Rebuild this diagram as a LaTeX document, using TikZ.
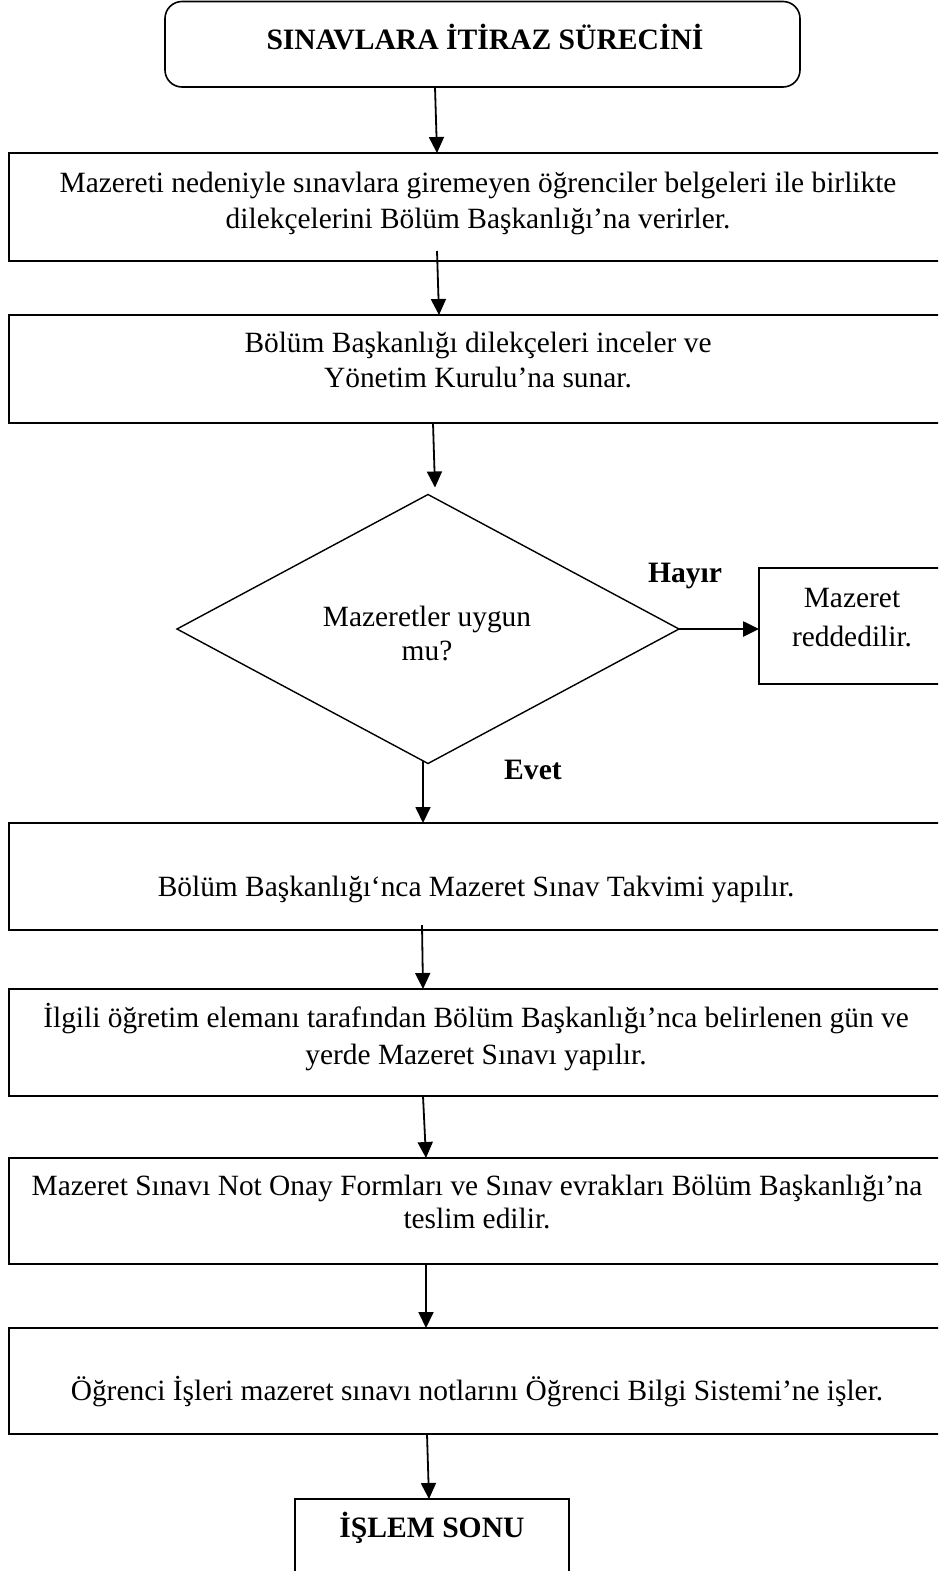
\documentclass[tikz,border=0pt]{standalone}
\usepackage{fontspec}
\setmainfont{Liberation Serif}
\usetikzlibrary{arrows.meta,shapes.geometric}

\tikzset{
  box/.style={draw, line width=1.6pt, rectangle, inner sep=0pt, outer sep=0pt},
  decision/.style={draw, line width=1.4pt, diamond, inner sep=0pt, outer sep=0pt},
  txt/.style={anchor=base, inner sep=0pt, font=\fontsize{29.4}{36}\selectfont},
  bold/.style={anchor=base, inner sep=0pt, font=\fontsize{29.6}{36}\selectfont\bfseries},
  flow/.style={line width=1.8pt, -{Triangle[length=16pt,width=15pt]}},
}

\newcommand{\twolines}[2]{\begin{tabular}[t]{@{}c@{}}#1\\#2\end{tabular}}

\begin{document}
\begin{tikzpicture}[x=1pt,y=-1pt]
\useasboundingbox (0,0) rectangle (938,1571);
\fill[white] (0,0) rectangle (938,1571);
\clip (0,0) rectangle (938,1571);

% start of the process
\node[box, rounded corners=17pt, minimum width=635pt, minimum height=85.5pt] (start) at (482.5,44.25) {};
\node[bold] (startt) at (485,49) {SINAVLARA İTİRAZ SÜRECİNİ};

% application
\node[box, minimum width=936pt, minimum height=108pt] (s1) at (477,207) {};
\node[txt, font=\fontsize{29.4}{36}\selectfont] (s1t) at (478,192)
  {\twolines{Mazereti nedeniyle sınavlara giremeyen öğrenciler belgeleri ile birlikte}{dilekçelerini Bölüm Başkanlığı’na verirler.}};

% review by the department
\node[box, minimum width=936pt, minimum height=108pt] (s2) at (477,369) {};
\node[txt, font=\fontsize{29.4}{35}\selectfont] (s2t) at (478,352)
  {\twolines{Bölüm Başkanlığı dilekçeleri inceler ve}{Yönetim Kurulu’na sunar.}};

% decision
\node[decision, minimum width=502pt, minimum height=269pt] (dia) at (428,629) {};
\node[txt, font=\fontsize{29.4}{34}\selectfont] (diat) at (427,626)
  {\twolines{Mazeretler uygun}{mu?}};
\node[bold] (no) at (685,582) {Hayır};
\node[bold] (yes) at (533,779) {Evet};

% rejected
\node[box, minimum width=186pt, minimum height=116pt] (rej) at (852,626) {};
\node[txt, font=\fontsize{29.4}{39}\selectfont] (rejt) at (852,607)
  {\twolines{Mazeret}{reddedilir.}};

% exam calendar
\node[box, minimum width=936pt, minimum height=107pt] (s3) at (477,876.5) {};
\node[txt] (s3t) at (476,896) {Bölüm Başkanlığı‘nca Mazeret Sınav Takvimi yapılır.};

% exam held
\node[box, minimum width=936pt, minimum height=107pt] (s4) at (477,1042.5) {};
\node[txt, font=\fontsize{29.4}{37}\selectfont] (s4t) at (476,1027)
  {\twolines{İlgili öğretim elemanı tarafından Bölüm Başkanlığı’nca belirlenen gün ve}{yerde Mazeret Sınavı yapılır.}};

% forms delivered
\node[box, minimum width=936pt, minimum height=106pt] (s5) at (477,1211) {};
\node[txt, font=\fontsize{29.4}{33}\selectfont] (s5t) at (477,1195)
  {\twolines{Mazeret Sınavı Not Onay Formları ve Sınav evrakları Bölüm Başkanlığı’na}{teslim edilir.}};

% grades entered
\node[box, minimum width=936pt, minimum height=106pt] (s6) at (477,1381) {};
\node[txt] (s6t) at (477,1400) {Öğrenci İşleri mazeret sınavı notlarını Öğrenci Bilgi Sistemi’ne işler.};

% end
\node[box, minimum width=274pt, minimum height=111pt] (fin) at (432,1554.5) {};
\node[bold] (fint) at (432,1537) {İŞLEM SONU};

% connectors
\draw[flow] ([xshift=-47.5pt]start.south) -- ([xshift=-40pt]s1.north);
\draw[flow] ([xshift=-40pt,yshift=10pt]s1.south) -- ([xshift=-38pt]s2.north);
\draw[flow] ([xshift=-44pt]s2.south) -- ([xshift=7pt,yshift=7pt]dia.north);
\draw[flow, line width=2.6pt] (dia.east) -- (dia.east -| rej.west);
\draw[flow] ([xshift=-5pt,yshift=3pt]dia.south) -- ([xshift=-54pt]s3.north);
\draw[flow] ([xshift=-55pt,yshift=5pt]s3.south) -- ([xshift=-54pt]s4.north);
\draw[flow] ([xshift=-54pt]s4.south) -- ([xshift=-51pt]s5.north);
\draw[flow] ([xshift=-51pt]s5.south) -- ([xshift=-51pt]s6.north);
\draw[flow] ([xshift=-50pt]s6.south) -- ([xshift=-3pt]fin.north);
\end{tikzpicture}
\end{document}
